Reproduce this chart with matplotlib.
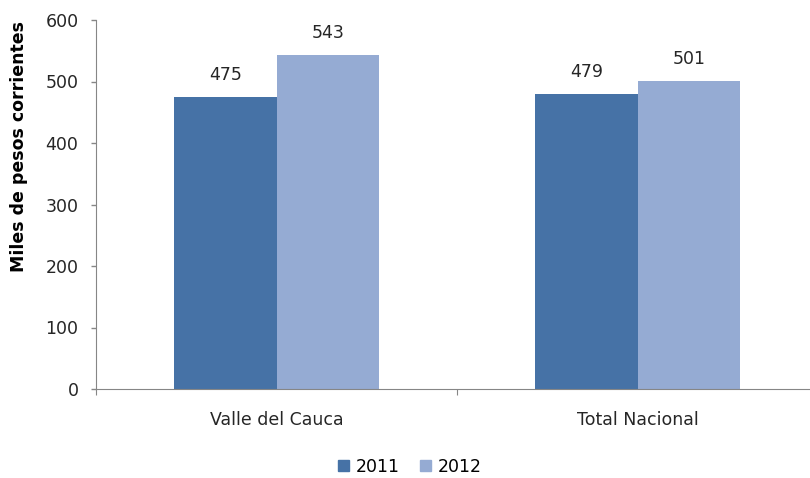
import numpy as np
import matplotlib.pyplot as plt
from matplotlib.patches import Patch

categories = ['Valle del Cauca', 'Total Nacional']
years = ['2011', '2012']
values_2011 = [475, 479]
values_2012 = [543, 501]

colors = ['#4672a6', '#95abd3']
text_color = '#262626'
axis_color = '#868686'

fig = plt.figure(figsize=(8.1, 4.78), dpi=100)
ax = fig.add_axes([96 / 810, 89 / 478, 722 / 810, 369 / 478])

x = np.arange(len(categories))
w = 0.284
ax.bar(x - w / 2, values_2011, w, color=colors[0], zorder=2)
ax.bar(x + w / 2, values_2012, w, color=colors[1], zorder=2)

for xs, vals in [(x - w / 2, values_2011), (x + w / 2, values_2012)]:
    for xi, v in zip(xs, vals):
        ax.annotate(str(v), (xi, v), xytext=(0, 16), textcoords='offset points',
                    ha='center', va='center', fontsize=12.5, color=text_color)

ax.set_xlim(-0.5, 1.5)
ax.set_ylim(0, 600)
ax.set_yticks(np.arange(0, 601, 100))
ax.tick_params(axis='y', labelsize=12.5, colors=axis_color, labelcolor=text_color,
               length=3.6, width=1, pad=9)

# category labels between boundary ticks
ax.set_xticks([-0.5, 0.5, 1.5])
ax.set_xticklabels([])
ax.set_xticks(x, minor=True)
ax.set_xticklabels(categories, minor=True, fontsize=12.5, color=text_color)
ax.tick_params(axis='x', which='major', length=4.3, colors=axis_color)
ax.tick_params(axis='x', which='minor', length=0, pad=16)

for s in ['top', 'right']:
    ax.spines[s].set_visible(False)
for s in ['left', 'bottom']:
    ax.spines[s].set_color(axis_color)

ax.set_ylabel('Miles de pesos corrientes', fontsize=12.5, fontweight='bold',
              color='black')
ax.yaxis.set_label_coords(-0.094, 0.656)

handles = [Patch(color=c, label=y) for c, y in zip(colors, years)]
fig.legend(handles=handles, loc='center', bbox_to_anchor=(410 / 810, 1 - 467 / 478),
           ncol=2, frameon=False, fontsize=12.5, handlelength=0.6,
           handleheight=0.6, handletextpad=0.4, columnspacing=1.2)

fig.savefig('out.png', dpi=100)
plt.close(fig)
